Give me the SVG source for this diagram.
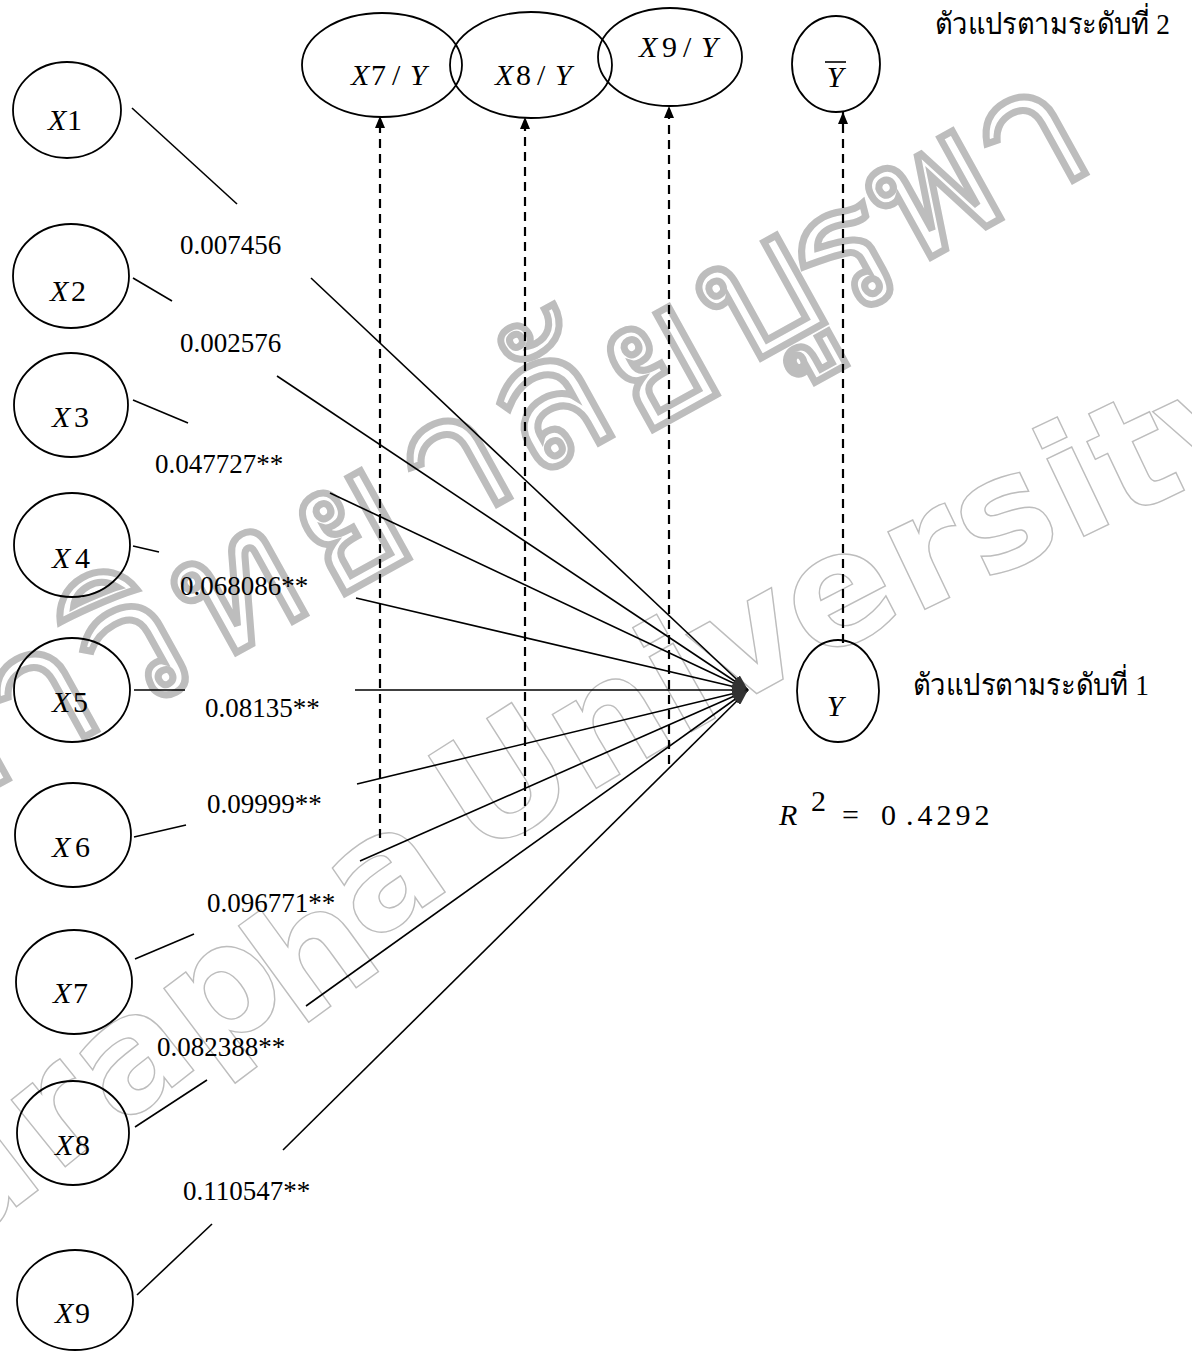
<svg xmlns="http://www.w3.org/2000/svg" width="1192" height="1352" viewBox="0 0 1192 1352">
<defs>
<style>
.node{fill:none;stroke:#000;stroke-width:1.8}
.lbl{font-family:"Liberation Serif","Times New Roman",serif;font-size:30px;fill:#000}
.it{font-style:italic}
.coef{font-family:"Liberation Serif","Times New Roman",serif;font-size:27px;fill:#000}
.edge{fill:none;stroke:#000;stroke-width:1.6}
.dash{fill:none;stroke:#000;stroke-width:2.2;stroke-dasharray:9 6}
.thai{font-family:"Liberation Serif","DejaVu Serif","Noto Sans",serif;font-size:30px;fill:#000}
.wmt{font-family:"DejaVu Sans",sans-serif;font-weight:bold;font-size:180px;fill:none;stroke:#bdbdbd;stroke-width:1.4}
.wme{font-family:"DejaVu Sans",sans-serif;font-weight:bold;font-size:157px;fill:none;stroke:#bdbdbd;stroke-width:1.4}
</style>
<marker id="conv" viewBox="0 0 16 10" refX="16" refY="5" markerWidth="16" markerHeight="10" markerUnits="userSpaceOnUse" orient="auto"><path d="M0,0 L16,5 L0,10 z" fill="#333"/></marker>
<marker id="up" viewBox="0 0 12 10" refX="12" refY="5" markerWidth="12" markerHeight="10" markerUnits="userSpaceOnUse" orient="auto"><path d="M0,0 L12,5 L0,10 z" fill="#000"/></marker>
</defs>
<rect width="1192" height="1352" fill="#fff"/>

<g id="watermark">
<text class="wmt" transform="translate(-84,830) rotate(-29)">ห</text>
<text class="wmt" transform="translate(23,771) rotate(-29)">า</text>
<text class="wmt" transform="translate(115,725) rotate(-29)">วิ</text>
<text class="wmt" transform="translate(212,666) rotate(-29)">ท</text>
<text class="wmt" transform="translate(330,602) rotate(-29)">ย</text>
<text class="wmt" transform="translate(436,538) rotate(-29)">า</text>
<text class="wmt" transform="translate(528,482) rotate(-29)">ลั</text>
<text class="wmt" transform="translate(638,438) rotate(-29)">ย</text>
<text class="wmt" transform="translate(736,372) rotate(-29)">บู</text>
<text class="wmt" transform="translate(828,330) rotate(-29)">ร</text>
<text class="wmt" transform="translate(908,270) rotate(-29)">พ</text>
<text class="wmt" transform="translate(1012,214) rotate(-29)">า</text>
<text class="wme" transform="translate(-40,1250) rotate(-37.5)">u</text>
<text class="wme" transform="translate(55,1175) rotate(-39)">r</text>
<text class="wme" transform="translate(120,1128) rotate(-38)">a</text>
<text class="wme" transform="translate(205,1065) rotate(-37)">p</text>
<text class="wme" transform="translate(298,1030) rotate(-36)">h</text>
<text class="wme" transform="translate(368,945) rotate(-34.5)">a</text>
<text class="wme" transform="translate(478,860) rotate(-32.6)">U</text>
<text class="wme" transform="translate(585,795) rotate(-30.8)">n</text>
<text class="wme" transform="translate(680,738) rotate(-29.5)">i</text>
<text class="wme" transform="translate(725,711) rotate(-28.7)">v</text>
<text class="wme" transform="translate(814,663) rotate(-27.5)">e</text>
<text class="wme" transform="translate(913,615) rotate(-25.5)">r</text>
<text class="wme" transform="translate(983,582) rotate(-25.5)">s</text>
<text class="wme" transform="translate(1072,542) rotate(-25.5)">i</text>
<text class="wme" transform="translate(1122,520) rotate(-25.5)">t</text>
<text class="wme" transform="translate(1188,490) rotate(-25.5)">y</text>
</g>

<g id="connectors">
<line class="edge" x1="132" y1="108" x2="237" y2="204"/>
<line class="edge" x1="311" y1="278" x2="748" y2="690" marker-end="url(#conv)"/>
<line class="edge" x1="133" y1="278" x2="172" y2="301"/>
<line class="edge" x1="277" y1="376" x2="748" y2="690" marker-end="url(#conv)"/>
<line class="edge" x1="133" y1="400" x2="188" y2="423"/>
<line class="edge" x1="330" y1="493" x2="748" y2="690" marker-end="url(#conv)"/>
<line class="edge" x1="133" y1="546" x2="159" y2="552"/>
<line class="edge" x1="356" y1="598" x2="748" y2="690" marker-end="url(#conv)"/>
<line class="edge" x1="134" y1="690" x2="185" y2="690"/>
<line class="edge" x1="355" y1="690" x2="748" y2="690" marker-end="url(#conv)"/>
<line class="edge" x1="134" y1="837" x2="186" y2="825"/>
<line class="edge" x1="357" y1="784" x2="748" y2="690" marker-end="url(#conv)"/>
<line class="edge" x1="135" y1="959" x2="194" y2="934"/>
<line class="edge" x1="360" y1="861" x2="748" y2="690" marker-end="url(#conv)"/>
<line class="edge" x1="135" y1="1127" x2="207" y2="1080"/>
<line class="edge" x1="306" y1="1006" x2="748" y2="690" marker-end="url(#conv)"/>
<line class="edge" x1="137" y1="1295" x2="212" y2="1224"/>
<line class="edge" x1="283" y1="1150" x2="748" y2="690" marker-end="url(#conv)"/>
<line class="dash" x1="380" y1="838" x2="380" y2="116" marker-end="url(#up)"/>
<line class="dash" x1="525" y1="836" x2="525" y2="117" marker-end="url(#up)"/>
<line class="dash" x1="669" y1="764" x2="669" y2="106" marker-end="url(#up)"/>
<line class="dash" x1="843" y1="643" x2="843" y2="112" marker-end="url(#up)"/>
</g>

<g id="X1"><ellipse class="node" cx="67" cy="110" rx="54" ry="48"/><text class="lbl it" x="48" y="130">X</text><text class="lbl" x="67" y="130">1</text></g>
<g id="X2"><ellipse class="node" cx="71" cy="276" rx="58" ry="52"/><text class="lbl it" x="50" y="301">X</text><text class="lbl" x="71" y="301">2</text></g>
<g id="X3"><ellipse class="node" cx="71" cy="405" rx="57" ry="52"/><text class="lbl it" x="52" y="427">X</text><text class="lbl" x="74" y="427">3</text></g>
<g id="X4"><ellipse class="node" cx="72" cy="545" rx="58" ry="52"/><text class="lbl it" x="52" y="568">X</text><text class="lbl" x="75" y="568">4</text></g>
<g id="X5"><ellipse class="node" cx="72" cy="690" rx="58" ry="52"/><text class="lbl it" x="52" y="712">X</text><text class="lbl" x="73" y="712">5</text></g>
<g id="X6"><ellipse class="node" cx="73" cy="835" rx="58" ry="52"/><text class="lbl it" x="52" y="857">X</text><text class="lbl" x="75" y="857">6</text></g>
<g id="X7"><ellipse class="node" cx="74" cy="982" rx="58" ry="52"/><text class="lbl it" x="53" y="1003">X</text><text class="lbl" x="73" y="1003">7</text></g>
<g id="X8"><ellipse class="node" cx="73" cy="1133" rx="56" ry="52"/><text class="lbl it" x="55" y="1155">X</text><text class="lbl" x="75" y="1155">8</text></g>
<g id="X9"><ellipse class="node" cx="75" cy="1300" rx="58" ry="50"/><text class="lbl it" x="55" y="1323">X</text><text class="lbl" x="75" y="1323">9</text></g>

<g id="X7Y"><ellipse class="node" cx="382" cy="65" rx="80" ry="52"/><text class="lbl it" x="351" y="85">X</text><text class="lbl" x="371" y="85">7</text><text class="lbl" x="392" y="85">/</text><text class="lbl it" x="410" y="85">Y</text></g>
<g id="X8Y"><ellipse class="node" cx="531" cy="65" rx="81" ry="53"/><text class="lbl it" x="495" y="85">X</text><text class="lbl" x="516" y="85">8</text><text class="lbl" x="537" y="85">/</text><text class="lbl it" x="555" y="85">Y</text></g>
<g id="X9Y"><ellipse class="node" cx="670" cy="57" rx="72" ry="49"/><text class="lbl it" x="639" y="57">X</text><text class="lbl" x="662" y="57">9</text><text class="lbl" x="683" y="57">/</text><text class="lbl it" x="701" y="57">Y</text></g>
<g id="Ybar"><ellipse class="node" cx="836" cy="64" rx="44" ry="48"/><text class="lbl it" x="835" y="87" text-anchor="middle">Y</text><line x1="825" y1="62" x2="846" y2="62" stroke="#000" stroke-width="1.6"/></g>
<g id="Y"><ellipse class="node" cx="838" cy="691" rx="41" ry="51"/><text class="lbl it" x="835" y="716" text-anchor="middle">Y</text></g>

<g id="coefficients">
<text class="coef" x="180" y="254">0.007456</text>
<text class="coef" x="180" y="352">0.002576</text>
<text class="coef" x="155" y="473">0.047727**</text>
<text class="coef" x="180" y="595">0.068086**</text>
<text class="coef" x="205" y="717">0.08135**</text>
<text class="coef" x="207" y="813">0.09999**</text>
<text class="coef" x="207" y="912">0.096771**</text>
<text class="coef" x="157" y="1056">0.082388**</text>
<text class="coef" x="183" y="1200">0.110547**</text>
</g>

<g id="notes">
<text class="thai" x="935" y="34" textLength="235" lengthAdjust="spacingAndGlyphs">ตัวแปรตามระดับที่ 2</text>
<text class="thai" x="913" y="695" textLength="236" lengthAdjust="spacingAndGlyphs">ตัวแปรตามระดับที่ 1</text>
<text class="lbl it" x="779" y="825">R</text>
<text class="lbl" x="811" y="811" font-size="14">2</text>
<text class="lbl" x="842" y="825">=</text>
<text class="lbl" x="881" y="825">0</text>
<text class="lbl" x="906" y="825" letter-spacing="4">.4292</text>
</g>
</svg>
